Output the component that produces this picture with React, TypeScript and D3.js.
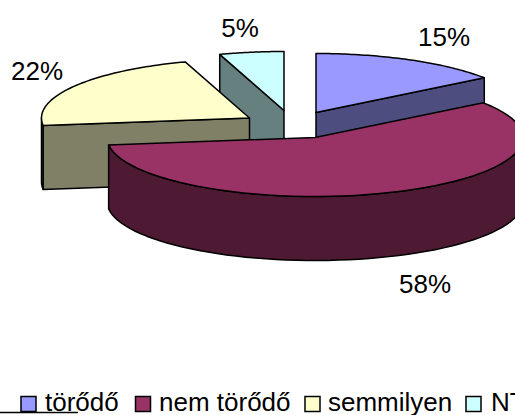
import React from "react";
import * as d3 from "d3";

const categories = ["törődő", "nem törődő", "semmilyen", "NT"];
const values = [15, 58, 22, 5];
const labels = ["15%", "58%", "22%", "5%"];
const topColors = ["#9999FF", "#993366", "#FFFFCC", "#CCFFFF"];
const sideColors = ["#4D4D80", "#4D1933", "#808066", "#668080"];

const W = 515, H = 415;
const rx = 208, ry = 59, depth = 64;
const centers: [number, number][] = [[316, 112.5], [315, 137.5], [249.5, 118], [284, 110.5]];
const labelPos: [number, number][] = [[444, 46], [425, 293], [37, 80], [240, 37]];
const legendX = [21, 135.5, 305, 466];
const legendTextX = [45, 159, 328, 491];

const pie = d3.pie<number>().sort(null).startAngle(0).endAngle(2 * Math.PI);
const arcs = pie(values);
const px = (c: number, a: number) => c + rx * Math.sin(a);
const py = (c: number, a: number) => c - ry * Math.cos(a);
const line = d3.line<[number, number]>();

function sample(c: [number, number], a0: number, a1: number, dy = 0): [number, number][] {
  const n = 60;
  return d3.range(n + 1).map((i) => {
    const a = a0 + ((a1 - a0) * i) / n;
    return [px(c[0], a), py(c[1], a) + dy] as [number, number];
  });
}

const drawOrder = [3, 0, 2, 1];

export default function App() {
  const stroke = { stroke: "#000", strokeWidth: 1.5, strokeLinejoin: "round" as const };
  return (
    <svg width={W} height={H} style={{ position: "absolute", left: 0, top: 0, display: "block" }}
      fontFamily="'Liberation Sans', Arial, sans-serif">
      {drawOrder.map((i) => {
        const c = centers[i];
        const { startAngle: a0, endAngle: a1 } = arcs[i];
        const walls: [number, number][][] = [];
        const face = (a: number): [number, number][] => [
          [px(c[0], a), py(c[1], a)], c,
          [c[0], c[1] + depth], [px(c[0], a), py(c[1], a) + depth],
        ];
        // a cut face shows only when it turns toward the viewer
        if (a0 > Math.PI && a0 < 2 * Math.PI) walls.push(face(a0));
        if (a1 > 0 && a1 < Math.PI) walls.push(face(a1));
        // outer rim, front half only
        const r0 = Math.max(a0, Math.PI / 2), r1 = Math.min(a1, (3 * Math.PI) / 2);
        const rim = r1 > r0 ? [...sample(c, r0, r1), ...sample(c, r1, r0, depth)] : null;
        const top = [...sample(c, a0, a1), c];
        return (
          <g key={i}>
            {walls.map((w, k) => (
              <path key={k} d={line(w) + "Z"} fill={sideColors[i]} {...stroke} />
            ))}
            {rim && <path d={line(rim) + "Z"} fill={sideColors[i]} {...stroke} />}
            <path d={line(top) + "Z"} fill={topColors[i]} {...stroke} />
          </g>
        );
      })}
      {labels.map((t, i) => (
        <text key={t} x={labelPos[i][0]} y={labelPos[i][1]} fontSize={26} textAnchor="middle" fill="#000">{t}</text>
      ))}
      {categories.map((t, i) => (
        <g key={t}>
          <rect x={legendX[i]} y={396.5} width={15} height={15} fill={topColors[i]} stroke="#000" strokeWidth={1.5} />
          <text x={legendTextX[i]} y={411} fontSize={26} fill="#000">{t}</text>
        </g>
      ))}
      <line x1={0} x2={78} y1={412.5} y2={412.5} stroke="#000" strokeWidth={1.5} />
    </svg>
  );
}
